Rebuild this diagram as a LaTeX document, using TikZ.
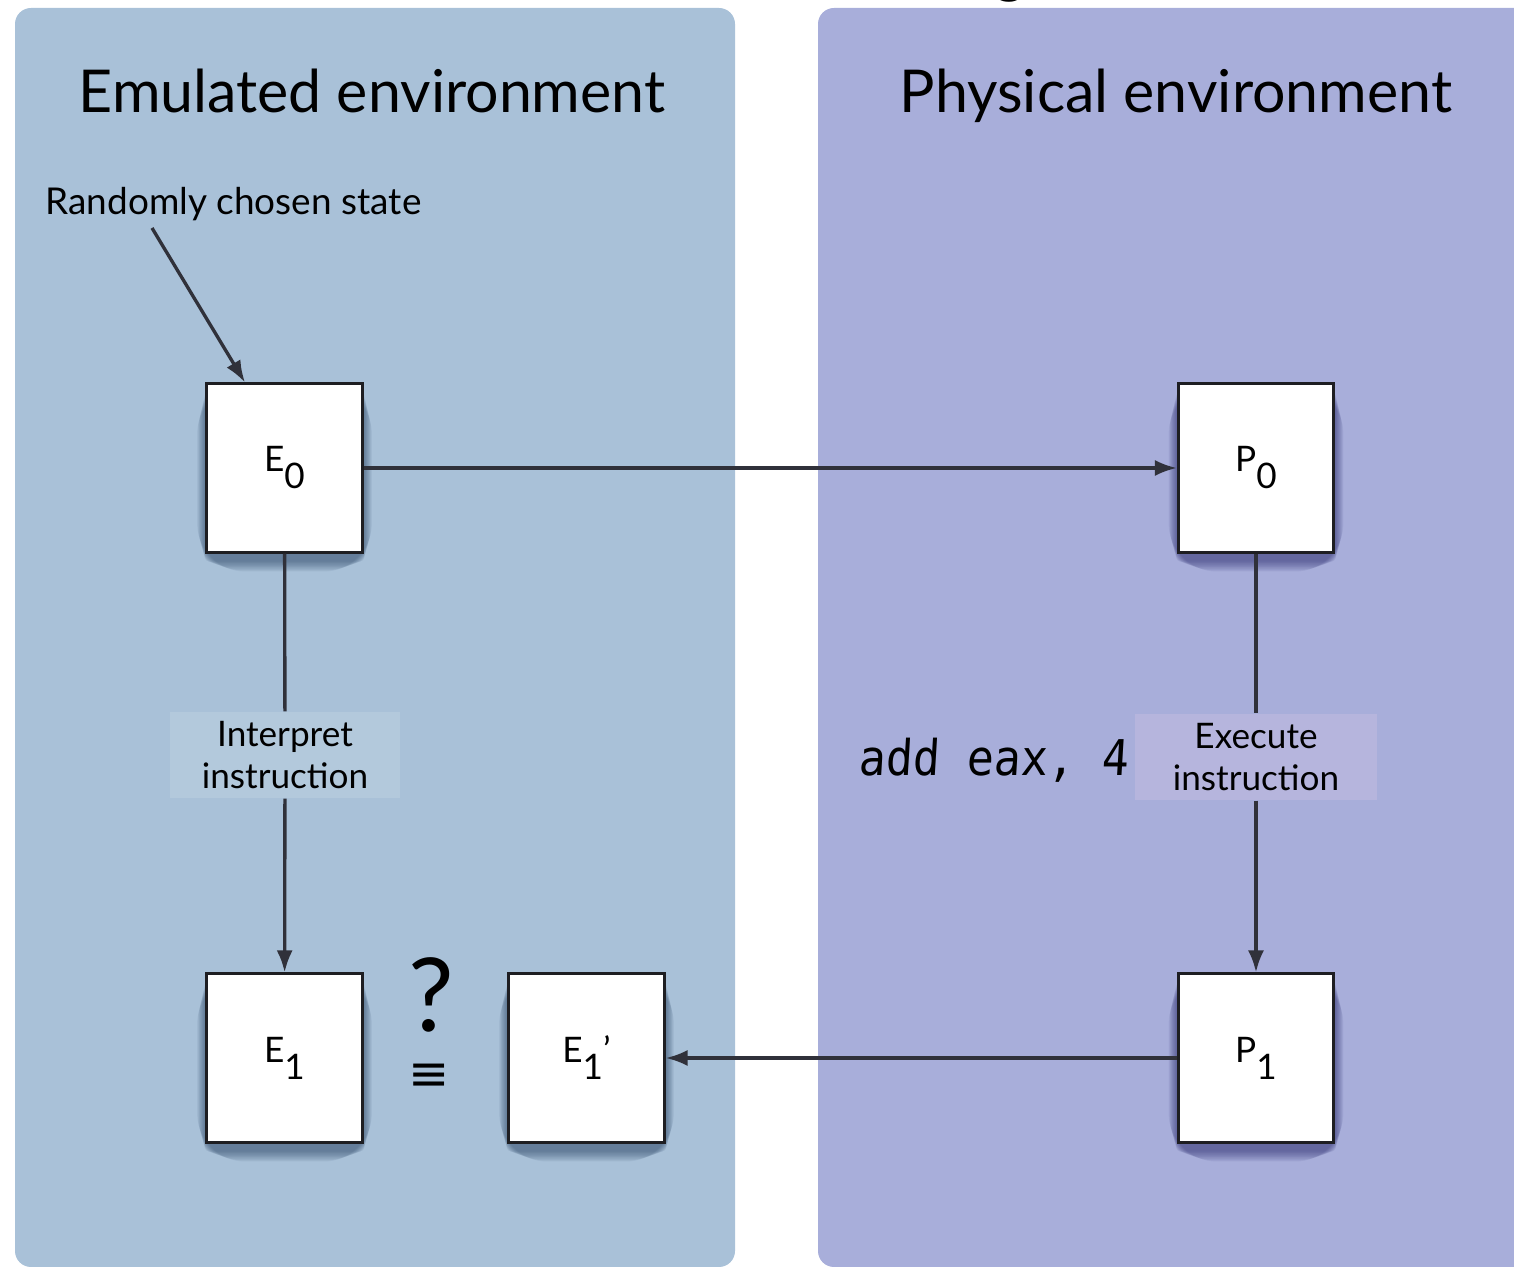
\documentclass[tikz,border=0pt]{standalone}
\usepackage{fontspec}
\setmainfont{Lato}
\newfontfamily\codefont[FakeStretch=0.91,FakeSlant=0.06]{DejaVu Sans Mono}
\newfontfamily\symfont{DejaVu Sans}
\usetikzlibrary{arrows.meta,calc}

\definecolor{emubg}{HTML}{A9C1D8}
\definecolor{physbg}{HTML}{A8AEDA}
\definecolor{emulab}{HTML}{B3C9DC}
\definecolor{physlab}{HTML}{B6B5DD}
\definecolor{emushadow}{HTML}{1E3A5C}
\definecolor{physshadow}{HTML}{202066}
\definecolor{boxline}{HTML}{1E1E22}
\definecolor{linecol}{HTML}{30313A}

% subscript set at full size, lowered
\newcommand\lowsub[1]{\raisebox{-0.17cm}{#1}}

\pgfdeclarelayer{panels}
\pgfdeclarelayer{shadow}
\pgfsetlayers{panels,shadow,main}

\tikzset{
  panel/.style={rounded corners=0.16cm},
  state/.style={draw=boxline, line width=0.85pt, fill=white,
    minimum width=1.55cm, minimum height=1.68cm, inner sep=0pt,
    font=\fontsize{10}{12}\selectfont},
  steplabel/.style={inner sep=0pt, minimum height=0.86cm, align=center,
    font=\fontsize{10}{11.8}\selectfont},
  heading/.style={anchor=base, inner sep=0pt, font=\fontsize{16.8}{20}\selectfont},
  flow/.style={draw=linecol, line width=0.95pt, -{Latex[length=0.22cm,width=0.16cm]}},
  link/.style={draw=linecol, line width=0.95pt},
}

\begin{document}
\begin{tikzpicture}[x=0.01cm, y=-0.01cm]
\useasboundingbox (0,0) rectangle (1514,1267);

% environment panels
\begin{pgfonlayer}{panels}
  \fill[emubg, panel] (15,8) rectangle (735,1267);
  \fill[physbg, panel] (818,8) rectangle (1540,1267);
\end{pgfonlayer}

% clipped descender of the text above the panels
\node[heading] (topfrag) at (1010,-8) {g};

% panel headings
\node[heading] (emutitle) at (372,113) {Emulated environment};
\node[heading] (phystitle) at (1176,113) {Physical environment};

% states
\node[state] (E0)  at (284.5,468)  {E\lowsub{0}};
\node[state] (P0)  at (1256,468)   {P\lowsub{0}};
\node[state] (E1)  at (284.5,1058) {E\lowsub{1}};
\node[state] (E1p) at (586.5,1058) {E\lowsub{1}'};
\node[state] (P1)  at (1256,1058)  {P\lowsub{1}};

% soft drop shadows under the state boxes
\begin{pgfonlayer}{shadow}
  \foreach \n in {E0,E1,E1p}{
    \foreach \r in {1,...,14}{
      \fill[emushadow, opacity=0.045, rounded corners=\r pt]
        ($(\n.south west)+(-\r*0.6,7+\r*0.8)$) rectangle ($(\n.north east)+(\r*0.6,10-\r*0.5)$);
    }
  }
  \foreach \n in {P0,P1}{
    \foreach \r in {1,...,14}{
      \fill[physshadow, opacity=0.045, rounded corners=\r pt]
        ($(\n.south west)+(-\r*0.6,7+\r*0.8)$) rectangle ($(\n.north east)+(\r*0.6,10-\r*0.5)$);
    }
  }
\end{pgfonlayer}

% step labels
\node[steplabel, fill=emulab, minimum width=2.3cm] (interp) at (285,755)
  {Interpret\\instruction};
\node[steplabel, fill=physlab, minimum width=2.42cm] (exec) at (1256,757)
  {Execute\\instruction};

% instruction text
\node[anchor=base west, inner sep=0pt, font={\codefont\fontsize{14}{16}\selectfont}]
  (code) at (858,776) {add eax, 4};

% start annotation
\node[anchor=base west, inner sep=0pt, font=\fontsize{10.5}{12}\selectfont]
  (rand) at (45,215) {Randomly chosen state};
\coordinate (randtail) at (152,228);

% equivalence question
\node[inner sep=0pt, font=\fontsize{29}{32}\selectfont] (qmark) at (431,995) {?};
\node[inner sep=0pt, font={\symfont\fontsize{14}{16}\selectfont}] (equiv) at (429,1077) {≡};

% connectors
\draw[flow] (randtail) -- ($(E0.north west)!0.25!(E0.north east)$);
\draw[flow] (E0) -- (P0);
\draw[link] (E0) -- (interp);
\draw[flow] (interp) -- (E1);
\draw[link] (P0) -- (exec);
\draw[flow] (exec) -- (P1);
\draw[flow] (P1) -- (E1p);
\end{tikzpicture}
\end{document}
